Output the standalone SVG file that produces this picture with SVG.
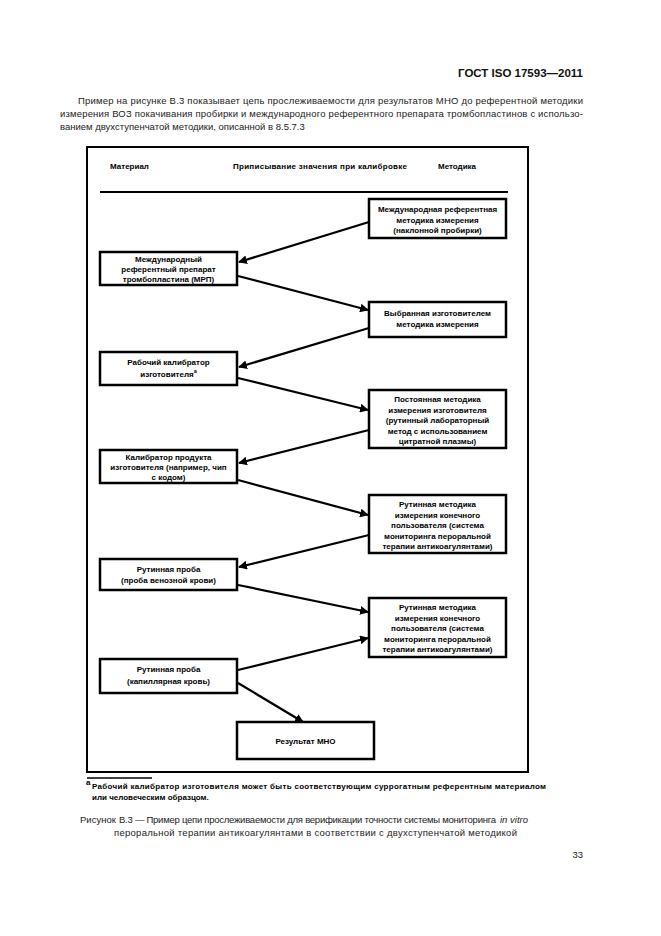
<svg xmlns="http://www.w3.org/2000/svg" width="661" height="936" viewBox="0 0 661 936">
<style>
.pg{font-family:"Liberation Sans",Arial,sans-serif;font-size:9.5px;fill:#222}
.hd{font-family:"Liberation Sans",Arial,sans-serif;font-size:11.5px;font-weight:bold;fill:#111}
.bx{fill:#fff;stroke:#000;stroke-width:2.5}
.bt{font-family:"Liberation Sans",Arial,sans-serif;font-size:8px;font-weight:bold;fill:#000;text-anchor:middle}
.ct{font-family:"Liberation Sans",Arial,sans-serif;font-size:8px;font-weight:bold;fill:#000}
.ar{stroke:#000;stroke-width:2.2;fill:none;marker-end:url(#ah)}
</style>
<defs>
<marker id="ah" viewBox="0 0 10 10" refX="9" refY="5" markerWidth="4" markerHeight="4" orient="auto" markerUnits="strokeWidth">
<path d="M0,0 L10,5 L0,10 z" fill="#000"/>
</marker>
</defs>
<rect width="661" height="936" fill="#fff"/>
<text class="hd" x="583" y="77" text-anchor="end">ГОСТ ISO 17593—2011</text>
<text class="pg" x="78" y="104" textLength="505" lengthAdjust="spacing">Пример на рисунке В.3 показывает цепь прослеживаемости для результатов МНО до референтной методики</text>
<text class="pg" x="60" y="117" textLength="523" lengthAdjust="spacing">измерения ВОЗ покачивания пробирки и международного референтного препарата тромбопластинов с использо-</text>
<text class="pg" x="60" y="130">ванием двухступенчатой методики, описанной в 8.5.7.3</text>
<rect x="87" y="147" width="441" height="625" fill="none" stroke="#000" stroke-width="2"/>
<g id="header">
<text class="ct" x="110" y="169">Материал</text>
<text class="ct" x="233" y="169" textLength="174" lengthAdjust="spacing">Приписывание значения при калибровке</text>
<text class="ct" x="438" y="169">Методика</text>
<line x1="100" y1="192" x2="508" y2="192" stroke="#000" stroke-width="2"/>
</g>
<g id="connectors">
<line class="ar" x1="369" y1="222" x2="239" y2="262"/>
<line class="ar" x1="238" y1="276" x2="368" y2="310"/>
<line class="ar" x1="369" y1="328" x2="239" y2="367"/>
<line class="ar" x1="238" y1="378" x2="368" y2="410"/>
<line class="ar" x1="369" y1="430" x2="239" y2="463"/>
<line class="ar" x1="238" y1="480" x2="368" y2="515"/>
<line class="ar" x1="369" y1="535" x2="239" y2="567"/>
<line class="ar" x1="238" y1="585" x2="368" y2="612"/>
<line class="ar" x1="238" y1="670" x2="368" y2="638"/>
<line class="ar" x1="238" y1="683" x2="303" y2="722"/>
</g>
<g id="n1">
<rect class="bx" x="369" y="199" width="137" height="39"/>
<text class="bt" x="437.5" y="212">Международная референтная</text>
<text class="bt" x="437.5" y="222.5">методика измерения</text>
<text class="bt" x="437.5" y="233">(наклонной пробирки)</text>
</g>
<g id="n2">
<rect class="bx" x="100" y="252" width="137" height="33"/>
<text class="bt" x="168.5" y="262">Международный</text>
<text class="bt" x="168.5" y="272">референтный препарат</text>
<text class="bt" x="168.5" y="282">тромбопластина (МРП)</text>
</g>
<g id="n3">
<rect class="bx" x="369" y="302" width="137" height="35"/>
<text class="bt" x="437.5" y="316">Выбранная изготовителем</text>
<text class="bt" x="437.5" y="327">методика измерения</text>
</g>
<g id="n4">
<rect class="bx" x="100" y="352" width="137" height="33"/>
<text class="bt" x="168.5" y="365">Рабочий калибратор</text>
<text class="bt" x="168.5" y="377">изготовителя<tspan font-size="5.5" dy="-4">a</tspan></text>
</g>
<g id="n5">
<rect class="bx" x="369" y="390" width="137" height="58"/>
<text class="bt" x="437.5" y="402">Постоянная методика</text>
<text class="bt" x="437.5" y="412.5">измерения изготовителя</text>
<text class="bt" x="437.5" y="423">(рутинный лабораторный</text>
<text class="bt" x="437.5" y="433.5">метод с использованием</text>
<text class="bt" x="437.5" y="444">цитратной плазмы)</text>
</g>
<g id="n6">
<rect class="bx" x="100" y="450" width="137" height="33"/>
<text class="bt" x="168.5" y="459.5">Калибратор продукта</text>
<text class="bt" x="168.5" y="469.5">изготовителя (например, чип</text>
<text class="bt" x="168.5" y="479.5">с кодом)</text>
</g>
<g id="n7">
<rect class="bx" x="369" y="495" width="137" height="58"/>
<text class="bt" x="437.5" y="507">Рутинная методика</text>
<text class="bt" x="437.5" y="517.5">измерения конечного</text>
<text class="bt" x="437.5" y="528">пользователя (система</text>
<text class="bt" x="437.5" y="538.5">мониторинга пероральной</text>
<text class="bt" x="437.5" y="549">терапии антикоагулянтами)</text>
</g>
<g id="n8">
<rect class="bx" x="100" y="559" width="137" height="31"/>
<text class="bt" x="168.5" y="572">Рутинная проба</text>
<text class="bt" x="168.5" y="583">(проба венозной крови)</text>
</g>
<g id="n9">
<rect class="bx" x="369" y="598" width="137" height="59"/>
<text class="bt" x="437.5" y="610">Рутинная методика</text>
<text class="bt" x="437.5" y="620.5">измерения конечного</text>
<text class="bt" x="437.5" y="631">пользователя (система</text>
<text class="bt" x="437.5" y="641.5">мониторинга пероральной</text>
<text class="bt" x="437.5" y="652">терапии антикоагулянтами)</text>
</g>
<g id="n10">
<rect class="bx" x="100" y="659" width="137" height="34"/>
<text class="bt" x="168.5" y="672">Рутинная проба</text>
<text class="bt" x="168.5" y="684">(капиллярная кровь)</text>
</g>
<g id="n11">
<rect class="bx" x="237" y="722" width="137" height="37"/>
<text class="bt" x="305.5" y="744">Результат МНО</text>
</g>
<line x1="87" y1="778" x2="152" y2="778" stroke="#000" stroke-width="1.5"/>
<text class="ct" x="86" y="785" font-size="6">a</text>
<text class="ct" x="92" y="789" textLength="454" lengthAdjust="spacing">Рабочий калибратор изготовителя может быть соответствующим суррогатным референтным материалом</text>
<text class="ct" x="92" y="800">или человеческим образцом.</text>
<text class="pg" x="80" y="823" font-size="9">Рисунок</text>
<text class="pg" x="119" y="823" font-size="9" textLength="377" lengthAdjust="spacing">В.3 — Пример цепи прослеживаемости для верификации точности системы мониторинга</text>
<text class="pg" x="500" y="823" font-size="9" font-style="italic">in vitro</text>
<text class="pg" x="114" y="836" font-size="9" textLength="403" lengthAdjust="spacing">пероральной терапии антикоагулянтами в соответствии с двухступенчатой методикой</text>
<text class="pg" x="583" y="858" text-anchor="end">33</text>
</svg>
